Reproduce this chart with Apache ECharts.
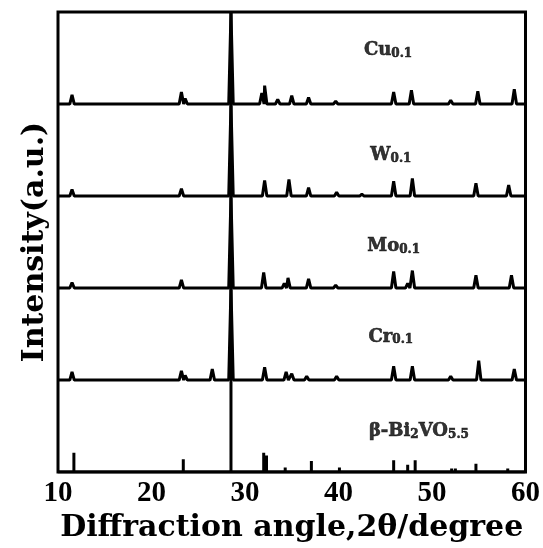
<!DOCTYPE html>
<html><head><meta charset="utf-8">
<script src="https://cdn.jsdelivr.net/npm/echarts@6/dist/echarts.min.js"></script>
<style>html,body{margin:0;padding:0;background:#fff}#c{width:543px;height:548px}</style>
</head><body><div id="c"></div>
<script>
// x tick labels
const xTicks = [10, 20, 30, 40, 50, 60];
// Pattern names (top to bottom) and their baseline offsets
const names = ['Cu', 'W', 'Mo', 'Cr'];
const offsets = [4, 3, 2, 1];
// Peak positions (2θ) and heights (a.u., 1 = stack spacing) per pattern
const cuPos = [11.5, 23.2, 23.6, 28.5, 31.8, 32.1, 33.5, 35.0, 36.8, 39.7, 45.9, 47.8, 52.0, 54.9, 58.8];
const cuH   = [0.10, 0.13, 0.06, 1.00, 0.12, 0.20, 0.05, 0.09, 0.07, 0.03, 0.13, 0.15, 0.04, 0.14, 0.16];
const wPos = [11.5, 23.2, 28.5, 32.1, 34.7, 36.8, 39.8, 42.5, 45.9, 47.9, 54.7, 58.2];
const wH   = [0.07, 0.08, 1.00, 0.17, 0.18, 0.09, 0.04, 0.02, 0.16, 0.19, 0.14, 0.12];
const moPos = [11.5, 23.2, 28.5, 32.0, 34.2, 34.6, 36.8, 39.7, 45.9, 47.4, 47.9, 54.7, 58.5];
const moH   = [0.06, 0.09, 1.00, 0.17, 0.05, 0.11, 0.10, 0.03, 0.18, 0.05, 0.19, 0.14, 0.14];
const crPos = [11.5, 23.2, 23.6, 26.5, 28.5, 32.1, 34.4, 35.0, 36.6, 39.8, 45.9, 47.9, 52.0, 55.0, 58.8];
const crH   = [0.09, 0.10, 0.05, 0.12, 1.00, 0.14, 0.09, 0.07, 0.04, 0.04, 0.15, 0.15, 0.04, 0.21, 0.12];
// Reference β-Bi2VO5.5 stick pattern
const refPos = [11.7, 23.4, 28.5, 32.0, 32.3, 34.3, 37.1, 40.1, 45.9, 47.4, 48.2, 52.1, 52.5, 54.7, 58.1];
const refH   = [0.21, 0.14, 5.00, 0.21, 0.18, 0.05, 0.12, 0.05, 0.13, 0.08, 0.13, 0.04, 0.04, 0.09, 0.04];
// Label text positions (data coords)
const labelX = [45.3, 45.6, 45.9, 45.6, 48.6];
const labelY = [4.59, 3.45, 2.46, 1.48, 0.45];

const HW = 0.24;
function profile(pos, h, base) {
  const pts = [[10, base]];
  pos.forEach((p, i) => {
    pts.push([p - HW, base]);
    pts.push([p, base + h[i]]);
    pts.push([p + HW, base]);
  });
  pts.push([60, base]);
  return pts;
}
function sticks(pos, h) {
  const pts = [[10, 0]];
  pos.forEach((p, i) => { pts.push([p, 0]); pts.push([p, h[i]]); pts.push([p, 0]); });
  pts.push([60, 0]);
  return pts;
}
const patterns = [[cuPos, cuH], [wPos, wH], [moPos, moH], [crPos, crH]];
const lineStyle = { color: '#000', width: 3 };
const series = patterns.map((pp, i) => ({
  type: 'line', data: profile(pp[0], pp[1], offsets[i]), showSymbol: false,
  lineStyle: lineStyle, silent: true, clip: true, animation: false
}));
series.push({ type: 'line', data: sticks(refPos, refH), showSymbol: false,
  lineStyle: { color: '#000', width: 3 }, silent: true, clip: true, animation: false });

const labelTexts = names.map(n => '{b|' + n + '}{s|0.1}');
labelTexts.push('{b|β-Bi}{s|2}{b|VO}{s|5.5}');
const txtB = { fontFamily: 'DejaVu Serif', fontWeight: 'bold', color: '#000', textBorderColor: '#000', textBorderWidth: 0.6, verticalAlign: 'bottom' };
series.push({
  type: 'scatter', symbolSize: 0, animation: false, silent: true,
  data: labelX.map((x, i) => ({ value: [x, labelY[i]], label: { formatter: labelTexts[i] } })),
  label: {
    show: true, position: 'inside', color: '#000',
    rich: {
      b: Object.assign({ fontSize: 18 }, txtB),
      s: Object.assign({ fontSize: 12, padding: [8, 0, 0, 0] }, txtB)
    }
  }
});

const chart = echarts.init(document.getElementById('c'), null, { renderer: 'canvas' });
chart.setOption({
  backgroundColor: '#fff',
  animation: false,
  grid: { left: 58, right: 15, top: 12, bottom: 74, show: true, borderColor: '#000', borderWidth: 3, backgroundColor: 'transparent' },
  xAxis: {
    type: 'value', min: xTicks[0], max: xTicks[xTicks.length - 1], interval: 10,
    axisLine: { show: false }, axisTick: { show: false }, splitLine: { show: false },
    axisLabel: { color: '#000', fontFamily: 'Liberation Serif', fontWeight: 'bold', fontSize: 29, margin: 7 },
    name: 'Diffraction angle,2θ/degree', nameLocation: 'middle', nameGap: 38,
    nameTextStyle: { color: '#000', fontFamily: 'DejaVu Serif', fontWeight: 'bold', fontSize: 30 }
  },
  yAxis: {
    type: 'value', min: 0, max: 5, interval: 1,
    axisLine: { show: false }, splitLine: { show: false }, axisLabel: { show: false },
    axisTick: { show: true, inside: true, length: 6, lineStyle: { color: '#000', width: 2 } },
    name: 'Intensity(a.u.)', nameLocation: 'middle', nameGap: 8, nameRotate: 90,
    nameTextStyle: { color: '#000', fontFamily: 'DejaVu Serif', fontWeight: 'bold', fontSize: 30 }
  },
  series: series
});
</script></body></html>
